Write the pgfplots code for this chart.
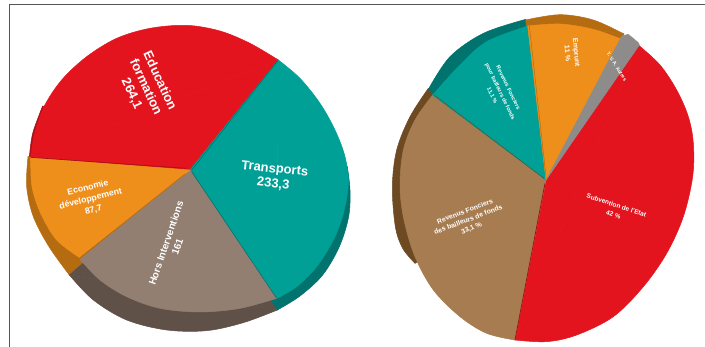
\documentclass[border=0pt]{standalone}
\usepackage{fontspec}
\setmainfont{Liberation Sans}
\usepackage{pgfplots}
\pgfplotsset{compat=1.18}
\definecolor{pred}{HTML}{E3141E}
\definecolor{dred}{HTML}{A51218}
\definecolor{pteal}{HTML}{00A097}
\definecolor{dteal}{HTML}{00736E}
\definecolor{ptaupe}{HTML}{927F72}
\definecolor{dtaupe}{HTML}{5F5048}
\definecolor{porange}{HTML}{EE8F1C}
\definecolor{dorange}{HTML}{B56C10}
\definecolor{pbrown}{HTML}{A67C50}
\definecolor{dbrown}{HTML}{6E4A22}
\definecolor{pgrey}{HTML}{8E8C8A}
\definecolor{framegrey}{HTML}{555555}
% shared canvas: outlines are given at three units per pixel
\pgfplotsset{
  canvas/.style={
    hide axis, scale only axis, width=705bp, height=347bp,
    ymin=0, ymax=1041, y dir=reverse, clip=false, anchor=south west, at={(0,0)}
  },
  wedge/.style={fill=#1, draw=#1, line width=0.5pt, line join=round},
  rim/.style={fill=#1, draw=#1, line width=0.5pt, line join=round, smooth, tension=0.55}
}
\tikzset{lab/.style={text=white, align=center, inner sep=0pt}}
\begin{document}
\begin{tikzpicture}
\path[use as bounding box] (0,0) rectangle (705bp,347bp);
% left pie and the frame
\begin{axis}[canvas, xmin=0, xmax=2115]
\addplot[draw=framegrey, line width=1.4pt] coordinates {(28,1041) (28,13) (2115,13)};
% side walls: fan from the centre, then the outer edge
\addplot[wedge=dred] coordinates {(570,510) (88,472) (128,318)} --cycle;
\addplot[rim=dred] coordinates {(88,472) (98,400) (128,318)} --cycle;
\addplot[wedge=dorange] coordinates {(570,510) (84,470) (208,825)} --cycle;
\addplot[rim=dorange] coordinates {(84,470) (80,560) (100,650) (147,740) (208,825)} --cycle;
\addplot[wedge=dtaupe] coordinates {(570,510) (208,825) (832,930)} --cycle;
\addplot[rim=dtaupe] coordinates {(208,825) (280,900) (380,960) (500,990) (620,992) (730,968) (832,930)} --cycle;
\addplot[wedge=dteal] coordinates {(570,510) (832,930) (1042,500)} --cycle;
\addplot[rim=dteal] coordinates {(832,930) (900,888) (968,825) (1018,740) (1046,650) (1050,570) (1042,500)} --cycle;
% top faces: triangle from the centre, then the outer arc
\addplot[wedge=pred] coordinates {(570,510) (92,470) (835,180)} --cycle;
\addplot[rim=pred] coordinates {(92,470) (104,400) (132,320) (185,240) (260,170) (350,115) (450,85) (560,76) (660,93) (750,130) (835,180)} --cycle;
\addplot[wedge=pteal] coordinates {(570,510) (835,180) (830,895)} --cycle;
\addplot[rim=pteal] coordinates {(835,180) (900,235) (960,310) (1005,390) (1035,470) (1045,550) (1030,640) (1000,720) (950,800) (890,860) (830,895)} --cycle;
\addplot[wedge=ptaupe] coordinates {(570,510) (830,895) (240,778)} --cycle;
\addplot[rim=ptaupe] coordinates {(830,895) (720,925) (600,936) (480,925) (380,890) (300,840) (240,778)} --cycle;
\addplot[wedge=porange] coordinates {(570,510) (238,772) (92,473)} --cycle;
\addplot[rim=porange] coordinates {(238,772) (170,720) (122,640) (96,560) (92,473)} --cycle;
% slice dividers
\addplot[draw=dred, line width=0.7pt] coordinates {(92,472) (560,505)};
\addplot[draw=dteal, line width=0.6pt] coordinates {(575,510) (835,180)};
\addplot[draw=dteal, line width=0.6pt] coordinates {(575,515) (830,895)};
\addplot[draw=dorange, line width=0.6pt] coordinates {(555,522) (238,775)};
% labels
\node[lab, rotate=-65, font=\bfseries\fontsize{13}{15.5}\selectfont] at (axis cs:437,262) {Education\\formation\\264,1};
\node[lab, font=\bfseries\fontsize{13}{15}\selectfont, rotate=-6] at (axis cs:822,530) {Transports\\233,3};
\node[lab, rotate=14, font=\bfseries\fontsize{8.8}{11.5}\selectfont] at (axis cs:272,597) {Economie\\développement\\87,7};
\node[lab, rotate=71, font=\bfseries\fontsize{10}{12}\selectfont] at (axis cs:515,735) {Hors Interventions\\161};
\end{axis}
% right pie
\begin{axis}[canvas, xmin=-1080, xmax=1035]
% side walls
\addplot[wedge=dbrown] coordinates {(558,540) (205,265) (165,790)} --cycle;
\addplot[rim=dbrown] coordinates {(205,265) (150,350) (110,450) (97,560) (106,680) (128,745) (165,790)} --cycle;
\addplot[wedge=dteal] coordinates {(558,540) (205,268) (497,58)} --cycle;
\addplot[rim=dteal] coordinates {(205,268) (270,170) (370,100) (497,58)} --cycle;
\addplot[wedge=dorange] coordinates {(558,540) (497,60) (792,102)} --cycle;
\addplot[rim=dorange] coordinates {(497,60) (600,44) (700,60) (792,102)} --cycle;
\addplot[wedge=dred] coordinates {(462,1000) (552,545) (545,560) (462,1015)} --cycle;
% top faces
\addplot[wedge=pred] coordinates {(558,540) (835,135) (465,1020)} --cycle;
\addplot[rim=pred] coordinates {(835,135) (900,195) (950,270) (985,350) (1000,430) (998,530) (970,650) (920,760) (850,860) (760,950) (650,1005) (560,1025) (465,1020)} --cycle;
\addplot[wedge=pbrown] coordinates {(558,540) (465,1020) (218,285)} --cycle;
\addplot[rim=pbrown] coordinates {(465,1020) (380,1000) (300,950) (220,870) (165,770) (132,660) (120,560) (130,450) (165,360) (218,285)} --cycle;
\addplot[wedge=pteal] coordinates {(558,540) (218,285) (503,78)} --cycle;
\addplot[rim=pteal] coordinates {(218,285) (300,195) (380,125) (503,78)} --cycle;
\addplot[wedge=porange] coordinates {(558,540) (503,78) (785,118)} --cycle;
\addplot[rim=porange] coordinates {(503,78) (600,72) (700,88) (785,118)} --cycle;
\addplot[wedge=pgrey] coordinates {(558,540) (785,108) (805,103) (835,128) (838,135)} --cycle;
% slice dividers
\addplot[draw=dbrown, line width=0.5pt] coordinates {(552,535) (222,285)};
\addplot[draw=dorange, line width=0.5pt] coordinates {(558,530) (508,78)};
\addplot[draw=dred, line width=0.8pt] coordinates {(555,550) (465,1020)};
% labels
\node[lab, rotate=-64, font=\bfseries\fontsize{5.6}{9}\selectfont] at (axis cs:420,275) {Revenus Fonciers\\pour bailleurs de fonds\\11,1 \%};
\node[lab, rotate=-85, font=\bfseries\fontsize{7}{9}\selectfont] at (axis cs:636,159) {Emprunt\\11 \%};
\node[lab, rotate=-58, font=\bfseries\fontsize{5}{6}\selectfont] at (axis cs:770,200) {T. V. A. Autres};
\node[lab, rotate=21, font=\bfseries\fontsize{6.9}{9}\selectfont] at (axis cs:325,660) {Revenus Fonciers\\des bailleurs de fonds\\33,1 \%};
\node[lab, rotate=-18, font=\bfseries\fontsize{6.5}{10}\selectfont] at (axis cs:765,630) {Subvention de l'Etat\\42 \%};
\end{axis}
\end{tikzpicture}
\end{document}
